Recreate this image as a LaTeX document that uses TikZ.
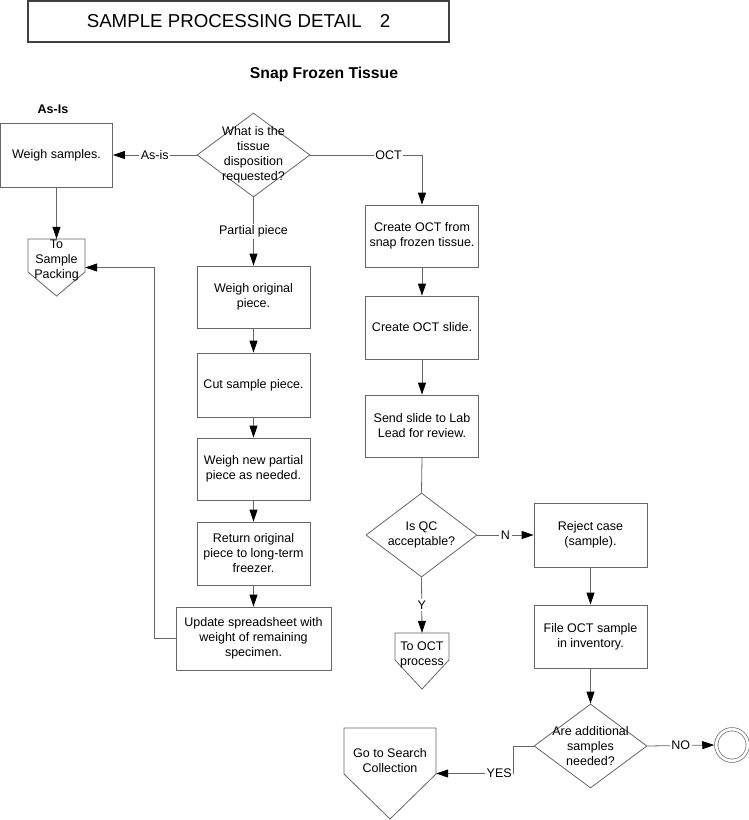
\documentclass[tikz,border=0pt]{standalone}
\usepackage{fontspec}
\setmainfont{Liberation Sans}
\usetikzlibrary{shapes.geometric,arrows.meta}
\begin{document}
\begin{tikzpicture}[x=1pt,y=-1pt,
  ln/.style={draw=black!60, line width=0.8pt},
  arr/.style={ln, -{Triangle[length=12pt,width=8pt,color=black]}},
  txtf/.style={font=\fontsize{12.5}{15}\selectfont, align=center},
  box/.style={draw=black!60, line width=0.8pt, inner sep=0pt, txtf},
  dia/.style={diamond, draw=black!60, line width=0.8pt, inner sep=0pt, minimum width=113pt, minimum height=84pt},
  txt/.style={txtf, inner sep=0pt},
  lab/.style={txtf, fill=white, inner sep=1.5pt},
  offp/.style={draw=none, inner sep=0pt},
  shp/.style={draw=black!60, line width=0.8pt}
]
\useasboundingbox (0,0) rectangle (749,820);

% title
\node[draw=black!75, line width=1.2pt, minimum width=421pt, minimum height=41pt, inner sep=0pt,
  font=\fontsize{18.7}{22}\selectfont] (title) at (238.5,21.5) {SAMPLE PROCESSING DETAIL\hspace{18pt}2};
\node[font=\bfseries\fontsize{15.7}{18}\selectfont, inner sep=0pt] (snap) at (324,74) {Snap Frozen Tissue};
\node[font=\bfseries\fontsize{12.5}{15}\selectfont, inner sep=0pt] (asis) at (53,109) {As-Is};

% left
\node[box, minimum width=112pt, minimum height=64pt] (wsamp) at (56.5,155) {Weigh samples.};
\node[offp, minimum width=57pt, minimum height=57pt] (toSP) at (56.5,267.5) {};
\draw[shp] (28,239) -- (85,239) -- (85,272) -- (56.5,296) -- (28,272) -- cycle;
\node[txt] (toSPt) at (56.5,260) {To\\Sample\\Packing};

% decision 1
\node[dia] (d1) at (253.5,155) {};
\node[txt] (d1t) at (253.5,154.5) {What is the\\tissue\\disposition\\requested?};

% middle column
\node[box, minimum width=113pt, minimum height=62pt] (worig) at (253.5,297) {Weigh original\\piece.};
\node[box, minimum width=113pt, minimum height=64pt] (cut) at (253.5,385) {Cut sample piece.};
\node[box, minimum width=113pt, minimum height=62pt] (wnew) at (253.5,469) {Weigh new partial\\piece as needed.};
\node[box, minimum width=113pt, minimum height=63pt] (ret) at (253.5,553.5) {Return original\\piece to long-term\\freezer.};
\node[box, minimum width=155pt, minimum height=63pt] (upd) at (253.5,638.5) {Update spreadsheet with\\weight of remaining\\specimen.};

% right column
\node[box, minimum width=113pt, minimum height=62pt] (coct) at (422,236) {Create OCT from\\snap frozen tissue.};
\node[box, minimum width=113pt, minimum height=63pt] (slide) at (422,327.5) {Create OCT slide.};
\node[box, minimum width=113pt, minimum height=62pt] (send) at (422,426) {Send slide to Lab\\Lead for review.};
\node[dia, minimum width=111pt] (qc) at (421.5,535) {};
\node[txt] (qct) at (421.5,534.5) {Is QC\\acceptable?};
\node[offp, minimum width=54pt, minimum height=56pt] (toOCT) at (422,661) {};
\draw[shp] (395,633) -- (449,633) -- (449,660) -- (422,689) -- (395,660) -- cycle;
\node[txt] (toOCTt) at (422,655) {To OCT\\process};

% far right
\node[box, minimum width=113pt, minimum height=64pt] (rej) at (590.5,535) {Reject case\\(sample).};
\node[box, minimum width=113pt, minimum height=63pt] (file) at (590.5,636.5) {File OCT sample\\in inventory.};
\node[dia] (d3) at (590.5,746) {};
\node[txt] (d3t) at (590.5,746) {Are additional\\samples\\needed?};
\node[circle, draw=black!60, line width=0.7pt, double, double distance=2.6pt, minimum size=31.5pt, inner sep=0pt, outer sep=2pt] (endc) at (732,745) {};
\node[offp, minimum width=92pt, minimum height=91pt] (goS) at (390,773.5) {};
\draw[shp] (344,728) -- (436,728) -- (436,774) -- (390,819) -- (344,774) -- cycle;
\node[txt] (goSt) at (390,761) {Go to Search\\Collection};

% connectors
\draw[arr] (d1.west) -- node[lab, pos=0.5]{As-is} (wsamp.east);
\draw[arr] (d1.east) -| node[lab, pos=0.35]{OCT} (coct.north);
\draw[arr] (d1.south) -- node[lab]{Partial piece} (worig.north);
\draw[arr] (wsamp.south) -- (toSP.north);
\draw[arr] (worig.south) -- (cut.north);
\draw[arr] (cut.south) -- (wnew.north);
\draw[arr] (wnew.south) -- (ret.north);
\draw[arr] (ret.south) -- (upd.north);
\coordinate (fb) at (154.5,638.5);
\draw[arr] (upd.west) -- (fb) |- (toSP.east);
\draw[arr] (coct.south) -- (slide.north);
\draw[arr] (slide.south) -- (send.north);
\draw[ln] (send.south) -- (qc.north);
\draw[arr] (qc.east) -- node[lab]{N} (rej.west);
\draw[arr] (qc.south) -- node[lab]{Y} (toOCT.north);
\draw[arr] (rej.south) -- (file.north);
\draw[arr] (file.south) -- (d3.north);
\draw[arr] (d3.east) -- node[lab]{NO} (endc.west);
\coordinate (yc) at (513,746);
\draw[arr] (d3.west) -- (yc) |- node[lab, pos=0.59]{YES} (goS.east);
\end{tikzpicture}
\end{document}
